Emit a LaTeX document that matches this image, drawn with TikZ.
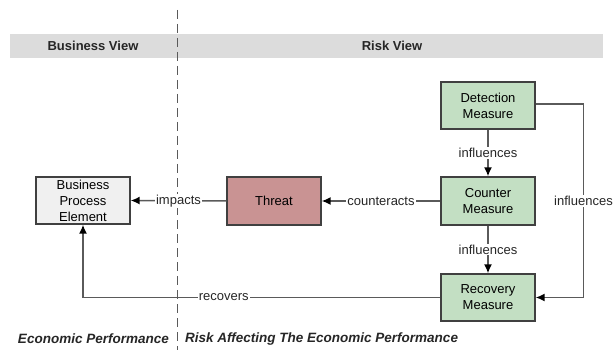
\documentclass[tikz,border=0pt]{standalone}
\usepackage{fontspec}
\setmainfont{Liberation Sans}
\usetikzlibrary{arrows.meta}
\definecolor{bandgray}{HTML}{DCDCDC}
\definecolor{linegray}{HTML}{5A5A5A}
\definecolor{boxedge}{HTML}{404040}
\definecolor{measgreen}{HTML}{C3DFC3}
\definecolor{threatred}{HTML}{C99393}
\definecolor{bpegray}{HTML}{F0F0F0}
\tikzset{
  box/.style={draw=boxedge, line width=1.4pt, minimum width=94pt, minimum height=47pt,
    inner sep=0pt, align=center, font=\fontsize{13}{16}\selectfont},
  meas/.style={box, fill=measgreen},
  conn/.style={draw=linegray, line width=1.5pt, -{Latex[length=9pt,width=8pt,black]}},
  lbl/.style={fill=white, inner sep=1pt, font=\fontsize{13}{16}\selectfont, text=black!85},
  head/.style={font=\bfseries\fontsize{13}{16}\selectfont, text=black!85},
  foot/.style={font=\bfseries\itshape\fontsize{13.5}{16}\selectfont, text=black!85}
}
\begin{document}
\begin{tikzpicture}[x=1pt,y=-1pt]
\useasboundingbox (0,0) rectangle (613,350);
% header band
\fill[bandgray] (10,34) rectangle (603,58);
\node[head] (bv) at (93,46) {Business View};
\node[head] (rv) at (392,46) {Risk View};
% dashed separator
\coordinate (dtop) at (177.5,10);
\coordinate (dbot) at (177.5,350);
\draw[linegray, line width=1.4pt, dash pattern=on 9pt off 5pt] (dtop) -- (dbot);
% nodes
\node[box, fill=bpegray] (bpe) at (83,200.5) {Business\\Process\\Element};
\node[box, fill=threatred, minimum height=48pt] (threat) at (274,201) {Threat};
\node[meas] (det) at (488,105.5) {Detection\\Measure};
\node[meas, minimum height=48pt] (cm) at (488,201) {Counter\\Measure};
\node[meas] (rec) at (488,297.5) {Recovery\\Measure};
% connectors
\draw[conn] (threat.west) -- node[lbl] {impacts} (bpe.east);
\draw[conn] (cm.west) -- node[lbl] {counteracts} (threat.east);
\draw[conn] (det.south) -- node[lbl] {influences} (cm.north);
\draw[conn] (cm.south) -- node[lbl] {influences} (rec.north);
\coordinate (rtop) at (583.5,104);
\coordinate (rbot) at (583.5,297.5);
\draw[conn] (det.east |- rtop) -- (rtop) -- node[lbl] {influences} (rbot) -- (rec.east);
\coordinate (lcorner) at (83,297.5);
\draw[conn] (rec.west) -- node[lbl, pos=0.606] {recovers} (lcorner) -- (bpe.south);
% footer
\node[foot, anchor=east, inner sep=0pt] (ep) at (169,339) {Economic Performance};
\node[foot, anchor=west, inner sep=0pt] (ra) at (185,339) {Risk Affecting The Economic Performance};
\end{tikzpicture}
\end{document}
